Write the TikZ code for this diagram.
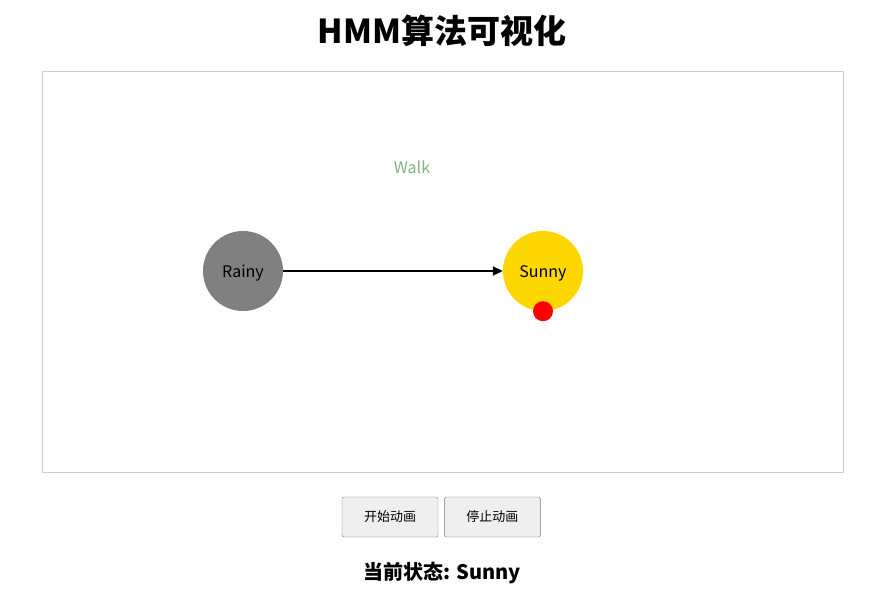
\documentclass[tikz,border=0pt]{standalone}
\usepackage{fontspec}
\setmainfont{Noto Sans CJK SC}
\usepackage{tikz}
\usetikzlibrary{shapes,arrows.meta,positioning}
\definecolor{StateGray}{RGB}{128, 128, 128}
\definecolor{StateGold}{RGB}{255, 215, 0}
\definecolor{WalkGreen}{RGB}{130, 180, 130}
\definecolor{FrameGray}{RGB}{204, 204, 204}
\definecolor{ButtonFill}{RGB}{239, 239, 239}
\definecolor{ButtonLine}{RGB}{118, 118, 118}

\begin{document}
\begin{tikzpicture}[x=1pt, y=-1pt,
    state/.style={circle, minimum size=80pt, inner sep=0pt, font=\fontsize{16}{19}\selectfont},
    button/.style={draw=ButtonLine, fill=ButtonFill, rounded corners=2pt, minimum width=96pt, minimum height=40pt, inner sep=0pt, font=\fontsize{13}{16}\selectfont}]
    \useasboundingbox (0,0) rectangle (885,598);

    % Title
    \node (title) at (442,31) {\fontsize{33}{38}\selectfont\bfseries HMM算法可视化};

    % Canvas frame
    \draw[FrameGray] (42,71) rectangle (843,472);

    % Observation
    \node[WalkGreen, font=\fontsize{16}{19}\selectfont] (walk) at (412,167) {Walk};

    % States
    \node[state, fill=StateGray] (rainy) at (243,271) {\raisebox{-2pt}[\height][\depth]{Rainy}};
    \node[state, fill=StateGold] (sunny) at (543,271) {\raisebox{-2pt}[\height][\depth]{Sunny}};

    % Transition
    \draw[-{Triangle[length=10pt, width=9pt]}, line width=2pt] (rainy) -- (sunny);

    % Current marker
    \node[circle, fill=red, minimum size=20pt, inner sep=0pt] (marker) at (sunny.south) {};

    % Buttons
    \node[button] (start) at (390,517) {开始动画};
    \node[button, right=6pt of start] (stop) {停止动画};

    % Status
    \node (status) at (442,573) {\fontsize{20}{24}\selectfont\bfseries 当前状态: Sunny};
\end{tikzpicture}
\end{document}
